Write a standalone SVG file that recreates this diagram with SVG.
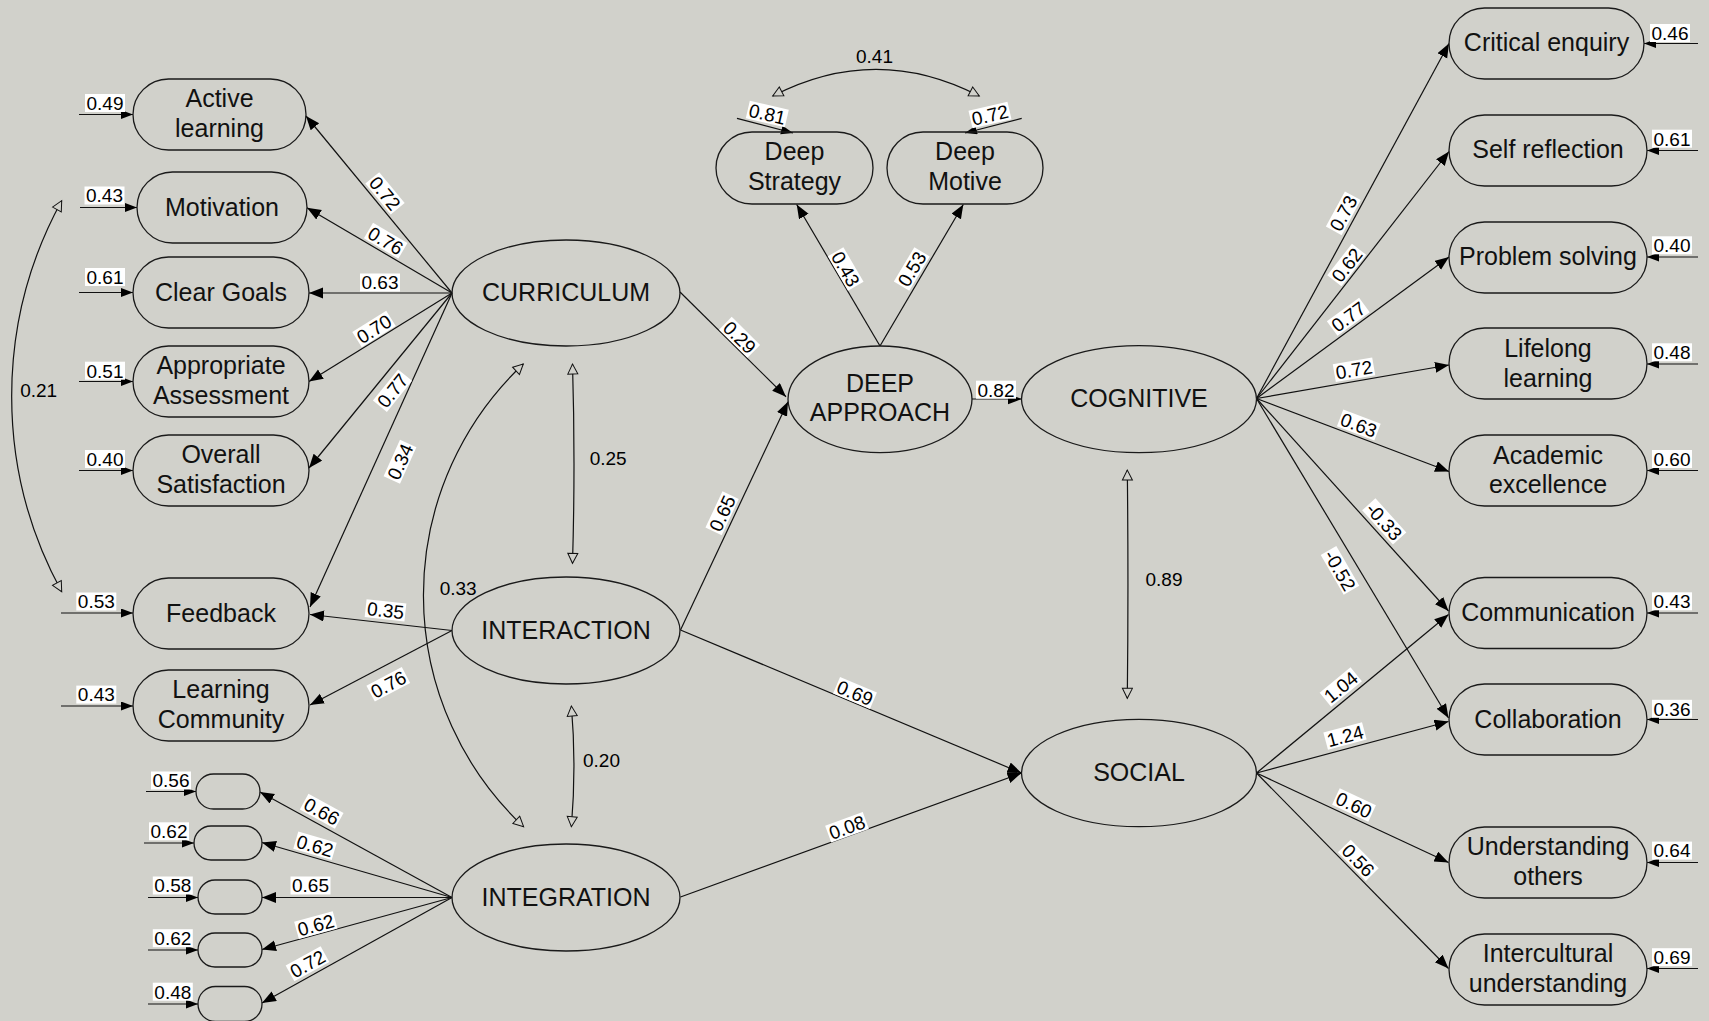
<svg xmlns="http://www.w3.org/2000/svg" width="1709" height="1021" viewBox="0 0 1709 1021">
<defs>
<style>
.n{fill:none;stroke:#1a1a1a;stroke-width:1.3}
.t{font-family:"Liberation Sans",Arial,sans-serif;font-size:25px;fill:#111;text-anchor:middle}
.e{stroke:#111;stroke-width:1.2;fill:none}
.lb rect{fill:#fff}
.lb text,.v{font-family:"Liberation Sans",Arial,sans-serif;font-size:19px;fill:#000;text-anchor:middle}
</style>
<marker id="fa" markerUnits="userSpaceOnUse" markerWidth="16" markerHeight="14" refX="14" refY="5.5" orient="auto"><path d="M0,0 L14,5.5 L0,11 Z" fill="#000"/></marker>
<marker id="fe" markerUnits="userSpaceOnUse" markerWidth="14" markerHeight="12" refX="12" refY="4.5" orient="auto"><path d="M0,0 L12,4.5 L0,9 Z" fill="#000"/></marker>
<marker id="oa" markerUnits="userSpaceOnUse" markerWidth="14" markerHeight="14" refX="11" refY="6" orient="auto-start-reverse"><path d="M1,1 L11,6 L1,11 Z" fill="#d1d1cb" stroke="#111" stroke-width="1"/></marker>
</defs>
<rect x="0" y="0" width="1709" height="1021" fill="#d1d1cb"/>

<g id="connectors">
<g class="e" marker-end="url(#fa)">
<path d="M452,293 L306,116"/>
<path d="M452,293 L307,207.7"/>
<path d="M452,293 L309,293"/>
<path d="M452,293 L309,381.5"/>
<path d="M452,293 L309,468"/>
<path d="M452,293 L310,607"/>
<path d="M452,630.5 L310,614.5"/>
<path d="M452,630.5 L310,705"/>
<path d="M452,897.5 L260,792"/>
<path d="M452,897.5 L262,842.5"/>
<path d="M452,897.5 L262,897.5"/>
<path d="M452,897.5 L262,949.5"/>
<path d="M452,897.5 L262,1003"/>
<path d="M680,292 L786,396.7"/>
<path d="M680.5,630 L788,401.7"/>
<path d="M680.5,630 L1021.5,773"/>
<path d="M680.5,897 L1021.5,773"/>
<path d="M880,346 L796.7,204.5"/>
<path d="M880,346 L963.3,204.5"/>
<path d="M972,399 L1021.5,399"/>
<path d="M1256.5,398.5 L1449,43.5"/>
<path d="M1256.5,398.5 L1449,151.5"/>
<path d="M1256.5,398.5 L1449,257"/>
<path d="M1256.5,398.5 L1449,365"/>
<path d="M1256.5,398.5 L1449,471.5"/>
<path d="M1256.5,398.5 L1448.5,611"/>
<path d="M1256.5,398.5 L1448.5,718"/>
<path d="M1256.5,773 L1448.5,614.5"/>
<path d="M1256.5,773 L1448.5,721.5"/>
<path d="M1256.5,773 L1448.5,862.5"/>
<path d="M1256.5,773 L1448.5,968.5"/>
</g>
<g class="e" marker-end="url(#fe)">
<path d="M79,114.5 L133,114.5"/>
<path d="M80,207.5 L137,207.5"/>
<path d="M79,292.5 L133,292.5"/>
<path d="M79,381.5 L133,381.5"/>
<path d="M79,470.5 L133,470.5"/>
<path d="M61,613 L133,613"/>
<path d="M61,706 L133,706"/>
<path d="M146,791.5 L196,791.5"/>
<path d="M144,843 L194,843"/>
<path d="M148,897.5 L198,897.5"/>
<path d="M148,950 L198,950"/>
<path d="M148,1004 L198,1004"/>
<path d="M1698,43.5 L1644,43.5"/>
<path d="M1698,150.5 L1647,150.5"/>
<path d="M1698,257 L1647,257"/>
<path d="M1698,364 L1647,364"/>
<path d="M1698,470.5 L1647,470.5"/>
<path d="M1698,613 L1647,613"/>
<path d="M1698,719.5 L1647,719.5"/>
<path d="M1698,862.5 L1647,862.5"/>
<path d="M1698,968.5 L1647,968.5"/>
<path d="M737,118.3 L793,133"/>
<path d="M1021.7,118.3 L965,133"/>
</g>
<g class="e" marker-start="url(#oa)" marker-end="url(#oa)">
<path d="M772.7,96 Q876,42.6 979.3,96"/>
<path d="M61.7,200.7 A407,407 0 0 0 61.7,591.7"/>
<path d="M523.3,364 A317.6,317.6 0 0 0 523.6,826.7"/>
<path d="M572.5,364 Q575.5,463.7 572.5,563.3"/>
<path d="M571.4,706 Q576.5,766 571.4,826.7"/>
<path d="M1127.3,470 Q1128.6,584 1127.3,698.3"/>
</g>
</g>

<g id="n-active"><rect class="n" x="133" y="79" width="173" height="71" rx="35.5"/><text class="t" x="219.5" y="106.5">Active</text><text class="t" x="219.5" y="136.5">learning</text></g>
<g id="n-motivation"><rect class="n" x="137" y="172" width="170" height="71" rx="35.5"/><text class="t" x="222" y="215.5">Motivation</text></g>
<g id="n-cleargoals"><rect class="n" x="133" y="257" width="176" height="71" rx="35.5"/><text class="t" x="221" y="300.5">Clear Goals</text></g>
<g id="n-assessment"><rect class="n" x="133" y="346" width="176" height="71" rx="35.5"/><text class="t" x="221" y="374">Appropriate</text><text class="t" x="221" y="403.5">Assessment</text></g>
<g id="n-satisfaction"><rect class="n" x="133" y="435" width="176" height="71" rx="35.5"/><text class="t" x="221" y="463">Overall</text><text class="t" x="221" y="492.5">Satisfaction</text></g>
<g id="n-feedback"><rect class="n" x="133" y="578" width="176" height="71" rx="35.5"/><text class="t" x="221" y="621.5">Feedback</text></g>
<g id="n-community"><rect class="n" x="133" y="670" width="176" height="71" rx="35.5"/><text class="t" x="221" y="698">Learning</text><text class="t" x="221" y="728">Community</text></g>
<g id="n-i1"><rect class="n" x="196" y="774" width="64" height="35" rx="17.5"/></g>
<g id="n-i2"><rect class="n" x="194" y="826" width="68" height="34" rx="17"/></g>
<g id="n-i3"><rect class="n" x="198" y="880" width="64" height="34" rx="17"/></g>
<g id="n-i4"><rect class="n" x="198" y="933" width="64" height="34" rx="17"/></g>
<g id="n-i5"><rect class="n" x="198" y="986.5" width="64" height="35" rx="17.5"/></g>

<g id="n-curriculum"><ellipse class="n" cx="566" cy="293" rx="114" ry="53"/><text class="t" x="566" y="301">CURRICULUM</text></g>
<g id="n-interaction"><ellipse class="n" cx="566" cy="630.5" rx="114" ry="53.5"/><text class="t" x="566" y="638.5">INTERACTION</text></g>
<g id="n-integration"><ellipse class="n" cx="566" cy="897.5" rx="114" ry="53.5"/><text class="t" x="566" y="905.5">INTEGRATION</text></g>
<g id="n-deep"><ellipse class="n" cx="880" cy="399.3" rx="92" ry="53.3"/><text class="t" x="880" y="391.5">DEEP</text><text class="t" x="880" y="420.5">APPROACH</text></g>
<g id="n-cognitive"><ellipse class="n" cx="1139" cy="399.2" rx="117.5" ry="53.5"/><text class="t" x="1139" y="407">COGNITIVE</text></g>
<g id="n-social"><ellipse class="n" cx="1139" cy="773" rx="117.5" ry="53.7"/><text class="t" x="1139" y="781">SOCIAL</text></g>

<g id="n-strategy"><rect class="n" x="716" y="132" width="157" height="72" rx="36"/><text class="t" x="794.5" y="160">Deep</text><text class="t" x="794.5" y="190">Strategy</text></g>
<g id="n-motive"><rect class="n" x="887" y="132" width="156" height="72" rx="36"/><text class="t" x="965" y="160">Deep</text><text class="t" x="965" y="190">Motive</text></g>

<g id="n-critical"><rect class="n" x="1449" y="8" width="195" height="71" rx="35.5"/><text class="t" x="1546.5" y="51">Critical enquiry</text></g>
<g id="n-self"><rect class="n" x="1449" y="115" width="198" height="71" rx="35.5"/><text class="t" x="1548" y="158">Self reflection</text></g>
<g id="n-problem"><rect class="n" x="1449" y="222" width="198" height="71" rx="35.5"/><text class="t" x="1548" y="265">Problem solving</text></g>
<g id="n-lifelong"><rect class="n" x="1449" y="328" width="198" height="71" rx="35.5"/><text class="t" x="1548" y="356.5">Lifelong</text><text class="t" x="1548" y="386.5">learning</text></g>
<g id="n-academic"><rect class="n" x="1449" y="435" width="198" height="71" rx="35.5"/><text class="t" x="1548" y="463.5">Academic</text><text class="t" x="1548" y="493">excellence</text></g>
<g id="n-communication"><rect class="n" x="1449" y="577.5" width="198" height="71" rx="35.5"/><text class="t" x="1548" y="621">Communication</text></g>
<g id="n-collaboration"><rect class="n" x="1449" y="684" width="198" height="71" rx="35.5"/><text class="t" x="1548" y="727.5">Collaboration</text></g>
<g id="n-understanding"><rect class="n" x="1449" y="827" width="198" height="71" rx="35.5"/><text class="t" x="1548" y="855">Understanding</text><text class="t" x="1548" y="885">others</text></g>
<g id="n-intercultural"><rect class="n" x="1449" y="934" width="198" height="71" rx="35.5"/><text class="t" x="1548" y="962">Intercultural</text><text class="t" x="1548" y="992">understanding</text></g>

<g id="labels">
<g class="lb" transform="translate(105,103)"><rect x="-20" y="-9" width="40" height="18"/><text y="6.8">0.49</text></g>
<g class="lb" transform="translate(104.5,195.5)"><rect x="-20" y="-9" width="40" height="18"/><text y="6.8">0.43</text></g>
<g class="lb" transform="translate(105,277)"><rect x="-20" y="-9" width="40" height="18"/><text y="6.8">0.61</text></g>
<g class="lb" transform="translate(105,370.7)"><rect x="-20" y="-9" width="40" height="18"/><text y="6.8">0.51</text></g>
<g class="lb" transform="translate(105,459)"><rect x="-20" y="-9" width="40" height="18"/><text y="6.8">0.40</text></g>
<g class="lb" transform="translate(96.3,601.5)"><rect x="-20" y="-9" width="40" height="18"/><text y="6.8">0.53</text></g>
<g class="lb" transform="translate(96.3,694.6)"><rect x="-20" y="-9" width="40" height="18"/><text y="6.8">0.43</text></g>
<g class="lb" transform="translate(171,780.5)"><rect x="-20" y="-9" width="40" height="18"/><text y="6.8">0.56</text></g>
<g class="lb" transform="translate(169,831.3)"><rect x="-20" y="-9" width="40" height="18"/><text y="6.8">0.62</text></g>
<g class="lb" transform="translate(172.8,885.5)"><rect x="-20" y="-9" width="40" height="18"/><text y="6.8">0.58</text></g>
<g class="lb" transform="translate(172.8,938.2)"><rect x="-20" y="-9" width="40" height="18"/><text y="6.8">0.62</text></g>
<g class="lb" transform="translate(172.8,991.7)"><rect x="-20" y="-9" width="40" height="18"/><text y="6.8">0.48</text></g>

<g class="lb" transform="translate(1670,33)"><rect x="-20" y="-9" width="40" height="18"/><text y="6.8">0.46</text></g>
<g class="lb" transform="translate(1672,138.7)"><rect x="-20" y="-9" width="40" height="18"/><text y="6.8">0.61</text></g>
<g class="lb" transform="translate(1672,245.3)"><rect x="-20" y="-9" width="40" height="18"/><text y="6.8">0.40</text></g>
<g class="lb" transform="translate(1672,352.3)"><rect x="-20" y="-9" width="40" height="18"/><text y="6.8">0.48</text></g>
<g class="lb" transform="translate(1672,459)"><rect x="-20" y="-9" width="40" height="18"/><text y="6.8">0.60</text></g>
<g class="lb" transform="translate(1672,601.3)"><rect x="-20" y="-9" width="40" height="18"/><text y="6.8">0.43</text></g>
<g class="lb" transform="translate(1672,708.8)"><rect x="-20" y="-9" width="40" height="18"/><text y="6.8">0.36</text></g>
<g class="lb" transform="translate(1672,850.6)"><rect x="-20" y="-9" width="40" height="18"/><text y="6.8">0.64</text></g>
<g class="lb" transform="translate(1672,957.2)"><rect x="-20" y="-9" width="40" height="18"/><text y="6.8">0.69</text></g>

<g class="lb" transform="translate(385,193.3) rotate(50.5)"><rect x="-20" y="-9" width="40" height="18"/><text y="6.8">0.72</text></g>
<g class="lb" transform="translate(385.7,240.7) rotate(30.5)"><rect x="-20" y="-9" width="40" height="18"/><text y="6.8">0.76</text></g>
<g class="lb" transform="translate(380,282.5)"><rect x="-20" y="-9" width="40" height="18"/><text y="6.8">0.63</text></g>
<g class="lb" transform="translate(374,329) rotate(-31.8)"><rect x="-20" y="-9" width="40" height="18"/><text y="6.8">0.70</text></g>
<g class="lb" transform="translate(392.5,390.7) rotate(-51)"><rect x="-20" y="-9" width="40" height="18"/><text y="6.8">0.77</text></g>
<g class="lb" transform="translate(400,461.7) rotate(-65.8)"><rect x="-20" y="-9" width="40" height="18"/><text y="6.8">0.34</text></g>
<g class="lb" transform="translate(385.5,610.3) rotate(6.2)"><rect x="-20" y="-9" width="40" height="18"/><text y="6.8">0.35</text></g>
<g class="lb" transform="translate(388.3,684.3) rotate(-27.8)"><rect x="-20" y="-9" width="40" height="18"/><text y="6.8">0.76</text></g>
<g class="lb" transform="translate(321.7,811.3) rotate(28.7)"><rect x="-20" y="-9" width="40" height="18"/><text y="6.8">0.66</text></g>
<g class="lb" transform="translate(315,845.8) rotate(16.2)"><rect x="-20" y="-9" width="40" height="18"/><text y="6.8">0.62</text></g>
<g class="lb" transform="translate(310.5,885.5)"><rect x="-20" y="-9" width="40" height="18"/><text y="6.8">0.65</text></g>
<g class="lb" transform="translate(315.8,925.1) rotate(-15.3)"><rect x="-20" y="-9" width="40" height="18"/><text y="6.8">0.62</text></g>
<g class="lb" transform="translate(307.5,963.8) rotate(-29)"><rect x="-20" y="-9" width="40" height="18"/><text y="6.8">0.72</text></g>

<g class="lb" transform="translate(739.6,337.3) rotate(44.7)"><rect x="-20" y="-9" width="40" height="18"/><text y="6.8">0.29</text></g>
<g class="lb" transform="translate(722.1,513.3) rotate(-64.8)"><rect x="-20" y="-9" width="40" height="18"/><text y="6.8">0.65</text></g>
<g class="lb" transform="translate(845.7,269) rotate(59.7)"><rect x="-20" y="-9" width="40" height="18"/><text y="6.8">0.43</text></g>
<g class="lb" transform="translate(911.8,269) rotate(-59.1)"><rect x="-20" y="-9" width="40" height="18"/><text y="6.8">0.53</text></g>
<g class="lb" transform="translate(855,693) rotate(22.8)"><rect x="-20" y="-9" width="40" height="18"/><text y="6.8">0.69</text></g>
<g class="lb" transform="translate(847,827.3) rotate(-19.9)"><rect x="-20" y="-9" width="40" height="18"/><text y="6.8">0.08</text></g>
<g class="lb" transform="translate(996,389.7)"><rect x="-20" y="-9" width="40" height="18"/><text y="6.8">0.82</text></g>
<g class="lb" transform="translate(767.3,114) rotate(13)"><rect x="-20" y="-9" width="40" height="18"/><text y="6.8">0.81</text></g>
<g class="lb" transform="translate(990,115) rotate(-13)"><rect x="-20" y="-9" width="40" height="18"/><text y="6.8">0.72</text></g>

<g class="lb" transform="translate(1343.3,213.3) rotate(-61.5)"><rect x="-20" y="-9" width="40" height="18"/><text y="6.8">0.73</text></g>
<g class="lb" transform="translate(1346.7,265) rotate(-51.9)"><rect x="-20" y="-9" width="40" height="18"/><text y="6.8">0.62</text></g>
<g class="lb" transform="translate(1348.3,316.7) rotate(-36.2)"><rect x="-20" y="-9" width="40" height="18"/><text y="6.8">0.77</text></g>
<g class="lb" transform="translate(1354,369.7) rotate(-9.8)"><rect x="-20" y="-9" width="40" height="18"/><text y="6.8">0.72</text></g>
<g class="lb" transform="translate(1358.8,425) rotate(20.8)"><rect x="-20" y="-9" width="40" height="18"/><text y="6.8">0.63</text></g>
<g class="lb" transform="translate(1384.2,521.4) rotate(47.9)"><rect x="-23" y="-9" width="46" height="18"/><text y="6.8">-0.33</text></g>
<g class="lb" transform="translate(1340,570.4) rotate(60)"><rect x="-23" y="-9" width="46" height="18"/><text y="6.8">-0.52</text></g>
<g class="lb" transform="translate(1340.8,687) rotate(-39.5)"><rect x="-20" y="-9" width="40" height="18"/><text y="6.8">1.04</text></g>
<g class="lb" transform="translate(1345,736) rotate(-14.9)"><rect x="-20" y="-9" width="40" height="18"/><text y="6.8">1.24</text></g>
<g class="lb" transform="translate(1354,805) rotate(25.1)"><rect x="-20" y="-9" width="40" height="18"/><text y="6.8">0.60</text></g>
<g class="lb" transform="translate(1358.3,860.3) rotate(45.6)"><rect x="-20" y="-9" width="40" height="18"/><text y="6.8">0.56</text></g>

<text class="v" x="874.5" y="63.3">0.41</text>
<text class="v" x="38.7" y="396.7">0.21</text>
<text class="v" x="458.2" y="595">0.33</text>
<text class="v" x="608.2" y="465">0.25</text>
<text class="v" x="601.5" y="767.3">0.20</text>
<text class="v" x="1164" y="586">0.89</text>
</g>
</svg>
